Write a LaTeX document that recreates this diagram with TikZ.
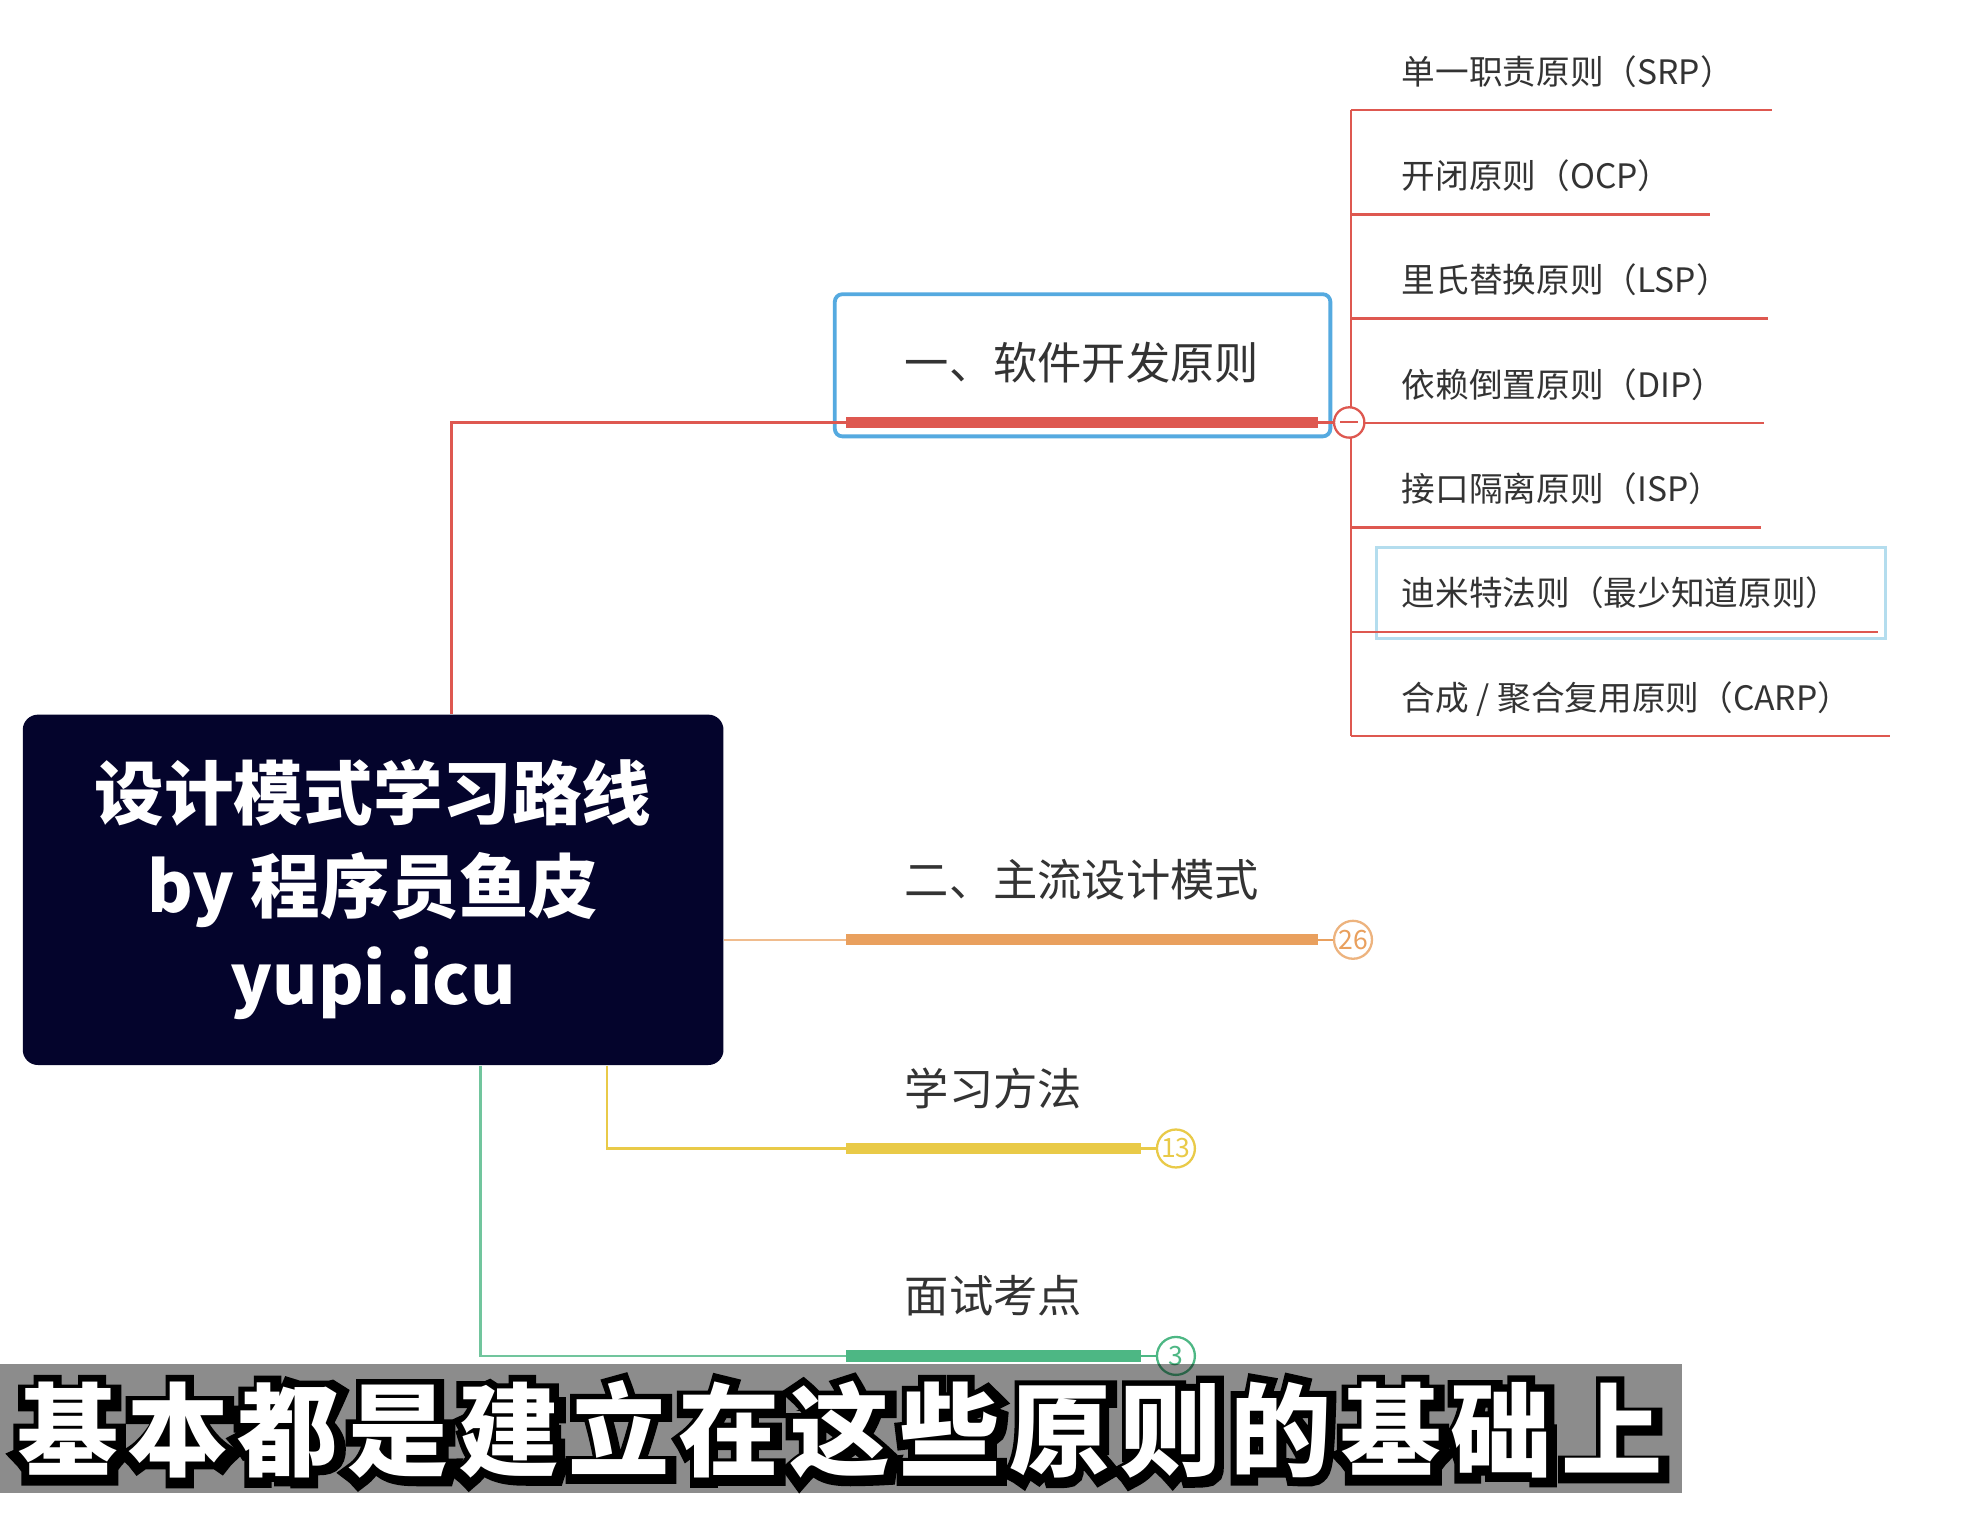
\documentclass[tikz,border=0pt]{standalone}
\usepackage{fontspec}
\setmainfont{Noto Sans CJK SC}
\newfontfamily\outlinefont[FakeBold=20, LetterSpace=9]{Noto Sans CJK SC}
\newfontfamily\captionfont[LetterSpace=9]{Noto Sans CJK SC}
\usetikzlibrary{positioning}

\definecolor{navy}{HTML}{04042C}
\definecolor{redline}{HTML}{DE5850}
\definecolor{boxblue}{HTML}{55AAE0}
\definecolor{selblue}{HTML}{B4DDEE}
\definecolor{orangeline}{HTML}{E9A05E}
\definecolor{yellowline}{HTML}{E9CA48}
\definecolor{greenline}{HTML}{4DB784}
\definecolor{textgray}{HTML}{333333}

\begin{document}
\begin{tikzpicture}[x=0.5pt,y=-0.5pt,
    root/.style={rectangle, rounded corners=6pt, fill=navy, text=white, align=center,
                 font=\bfseries\fontsize{27.5}{36.5}\selectfont,
                 minimum width=277pt, minimum height=138.5pt},
    topic/.style={anchor=south west, inner xsep=23pt, inner ysep=0pt, text height=14pt,
                  text depth=16.8pt, text=textgray, font=\fontsize{17.5}{20}\selectfont},
    subtopic/.style={anchor=south west, inner sep=0pt, text height=10pt, text depth=10pt,
                     text=textgray, font=\fontsize{13.3}{15}\selectfont},
    bar/.style={line width=4.5pt},
    link/.style={draw, line width=1pt},
    count/.style={circle, draw, fill=white, line width=0.9pt, inner sep=0pt,
                  minimum size=15pt, font=\fontsize{10.5}{10.5}\selectfont}
  ]
  \fill[white] (0,0) rectangle (1567,1211);
  \useasboundingbox (0,0) rectangle (1567,1211);

  % central topic
  \node[root] (root) at (295,703.5) {设计模式学习路线\\by 程序员鱼皮\\yupi.icu};

  % branch 1 and its seven principles
  \node[topic] (p1) at (669,334) {一、软件开发原则};
  \draw[boxblue, line width=1.5pt, rounded corners=3pt]
    ([shift={(-4.5pt,-5.5pt)}]p1.south west) rectangle ([shift={(5pt,19.5pt)}]p1.north east);
  \foreach \txt [count=\i] in {单一职责原则（SRP）, 开闭原则（OCP）, 里氏替换原则（LSP）,
      依赖倒置原则（DIP）, 接口隔离原则（ISP）, 迪米特法则（最少知道原则）,
      合成 / 聚合复用原则（CARP）}
    \node[subtopic] (c\i) at (1068,{87+(\i-1)*82.5}) {\hspace*{20pt}\txt\hspace*{15pt}};
  \draw[selblue, line width=1.2pt]
    ([shift={(10pt,-2.5pt)}]c6.south west) rectangle ([shift={(3pt,33.5pt)}]c6.south east);
  \path[link, redline] (c1.south west) -- (c7.south west);
  \foreach \i in {1,...,7}
    \path[link, redline] (c\i.south west) -- (c\i.south east);
  \path[link, redline] ([xshift=31pt]root.north) |- (p1.south west);
  \path[bar, draw=redline] (p1.south west) -- (p1.south east);
  \node[count, draw=redline, minimum size=12pt, right=6pt of p1.south east] (n1) {};
  \path[link, redline] (p1.south east) -- (n1);
  \draw[redline, line width=0.8pt] ([xshift=-3.5pt]n1.center) -- ([xshift=3.5pt]n1.center);

  % branch 2
  \node[topic] (p2) at (669,743) {二、主流设计模式};
  \path[link, orangeline!70] (root.east |- p2.south west) -- (p2.south west);
  \path[bar, draw=orangeline] (p2.south west) -- (p2.south east);
  \node[count, draw=orangeline!80, text=orangeline, right=6pt of p2.south east] (n2) {26};
  \path[link, orangeline] (p2.south east) -- (n2);

  % branch 3
  \node[topic] (p3) at (669,908) {学习方法};
  \path[link, yellowline] ([xshift=92.5pt]root.south) |- (p3.south west);
  \path[bar, draw=yellowline] (p3.south west) -- (p3.south east);
  \node[count, draw=yellowline, text=yellowline, right=6pt of p3.south east] (n3) {13};
  \path[link, yellowline] (p3.south east) -- (n3);

  % branch 4
  \node[topic] (p4) at (669,1072) {面试考点};
  \path[link, greenline!80] ([xshift=42.5pt]root.south) |- (p4.south west);
  \path[bar, draw=greenline] (p4.south west) -- (p4.south east);
  \node[count, draw=greenline, text=greenline, right=6pt of p4.south east] (n4) {3};
  \path[link, greenline] (p4.south east) -- (n4);

  % subtitle, black outline under white text
  \fill[black, opacity=0.45] (0,1078) rectangle (1330,1180);
  \node[text=black, font=\outlinefont\fontsize{40}{40}\selectfont] (subshadow)
    at ([shift={(0.7pt,-0.8pt)}]664,1130) {基本都是建立在这些原则的基础上};
  \node[text=white, font=\captionfont\bfseries\fontsize{40}{40}\selectfont] (sub)
    at (664,1130) {基本都是建立在这些原则的基础上};
\end{tikzpicture}
\end{document}
